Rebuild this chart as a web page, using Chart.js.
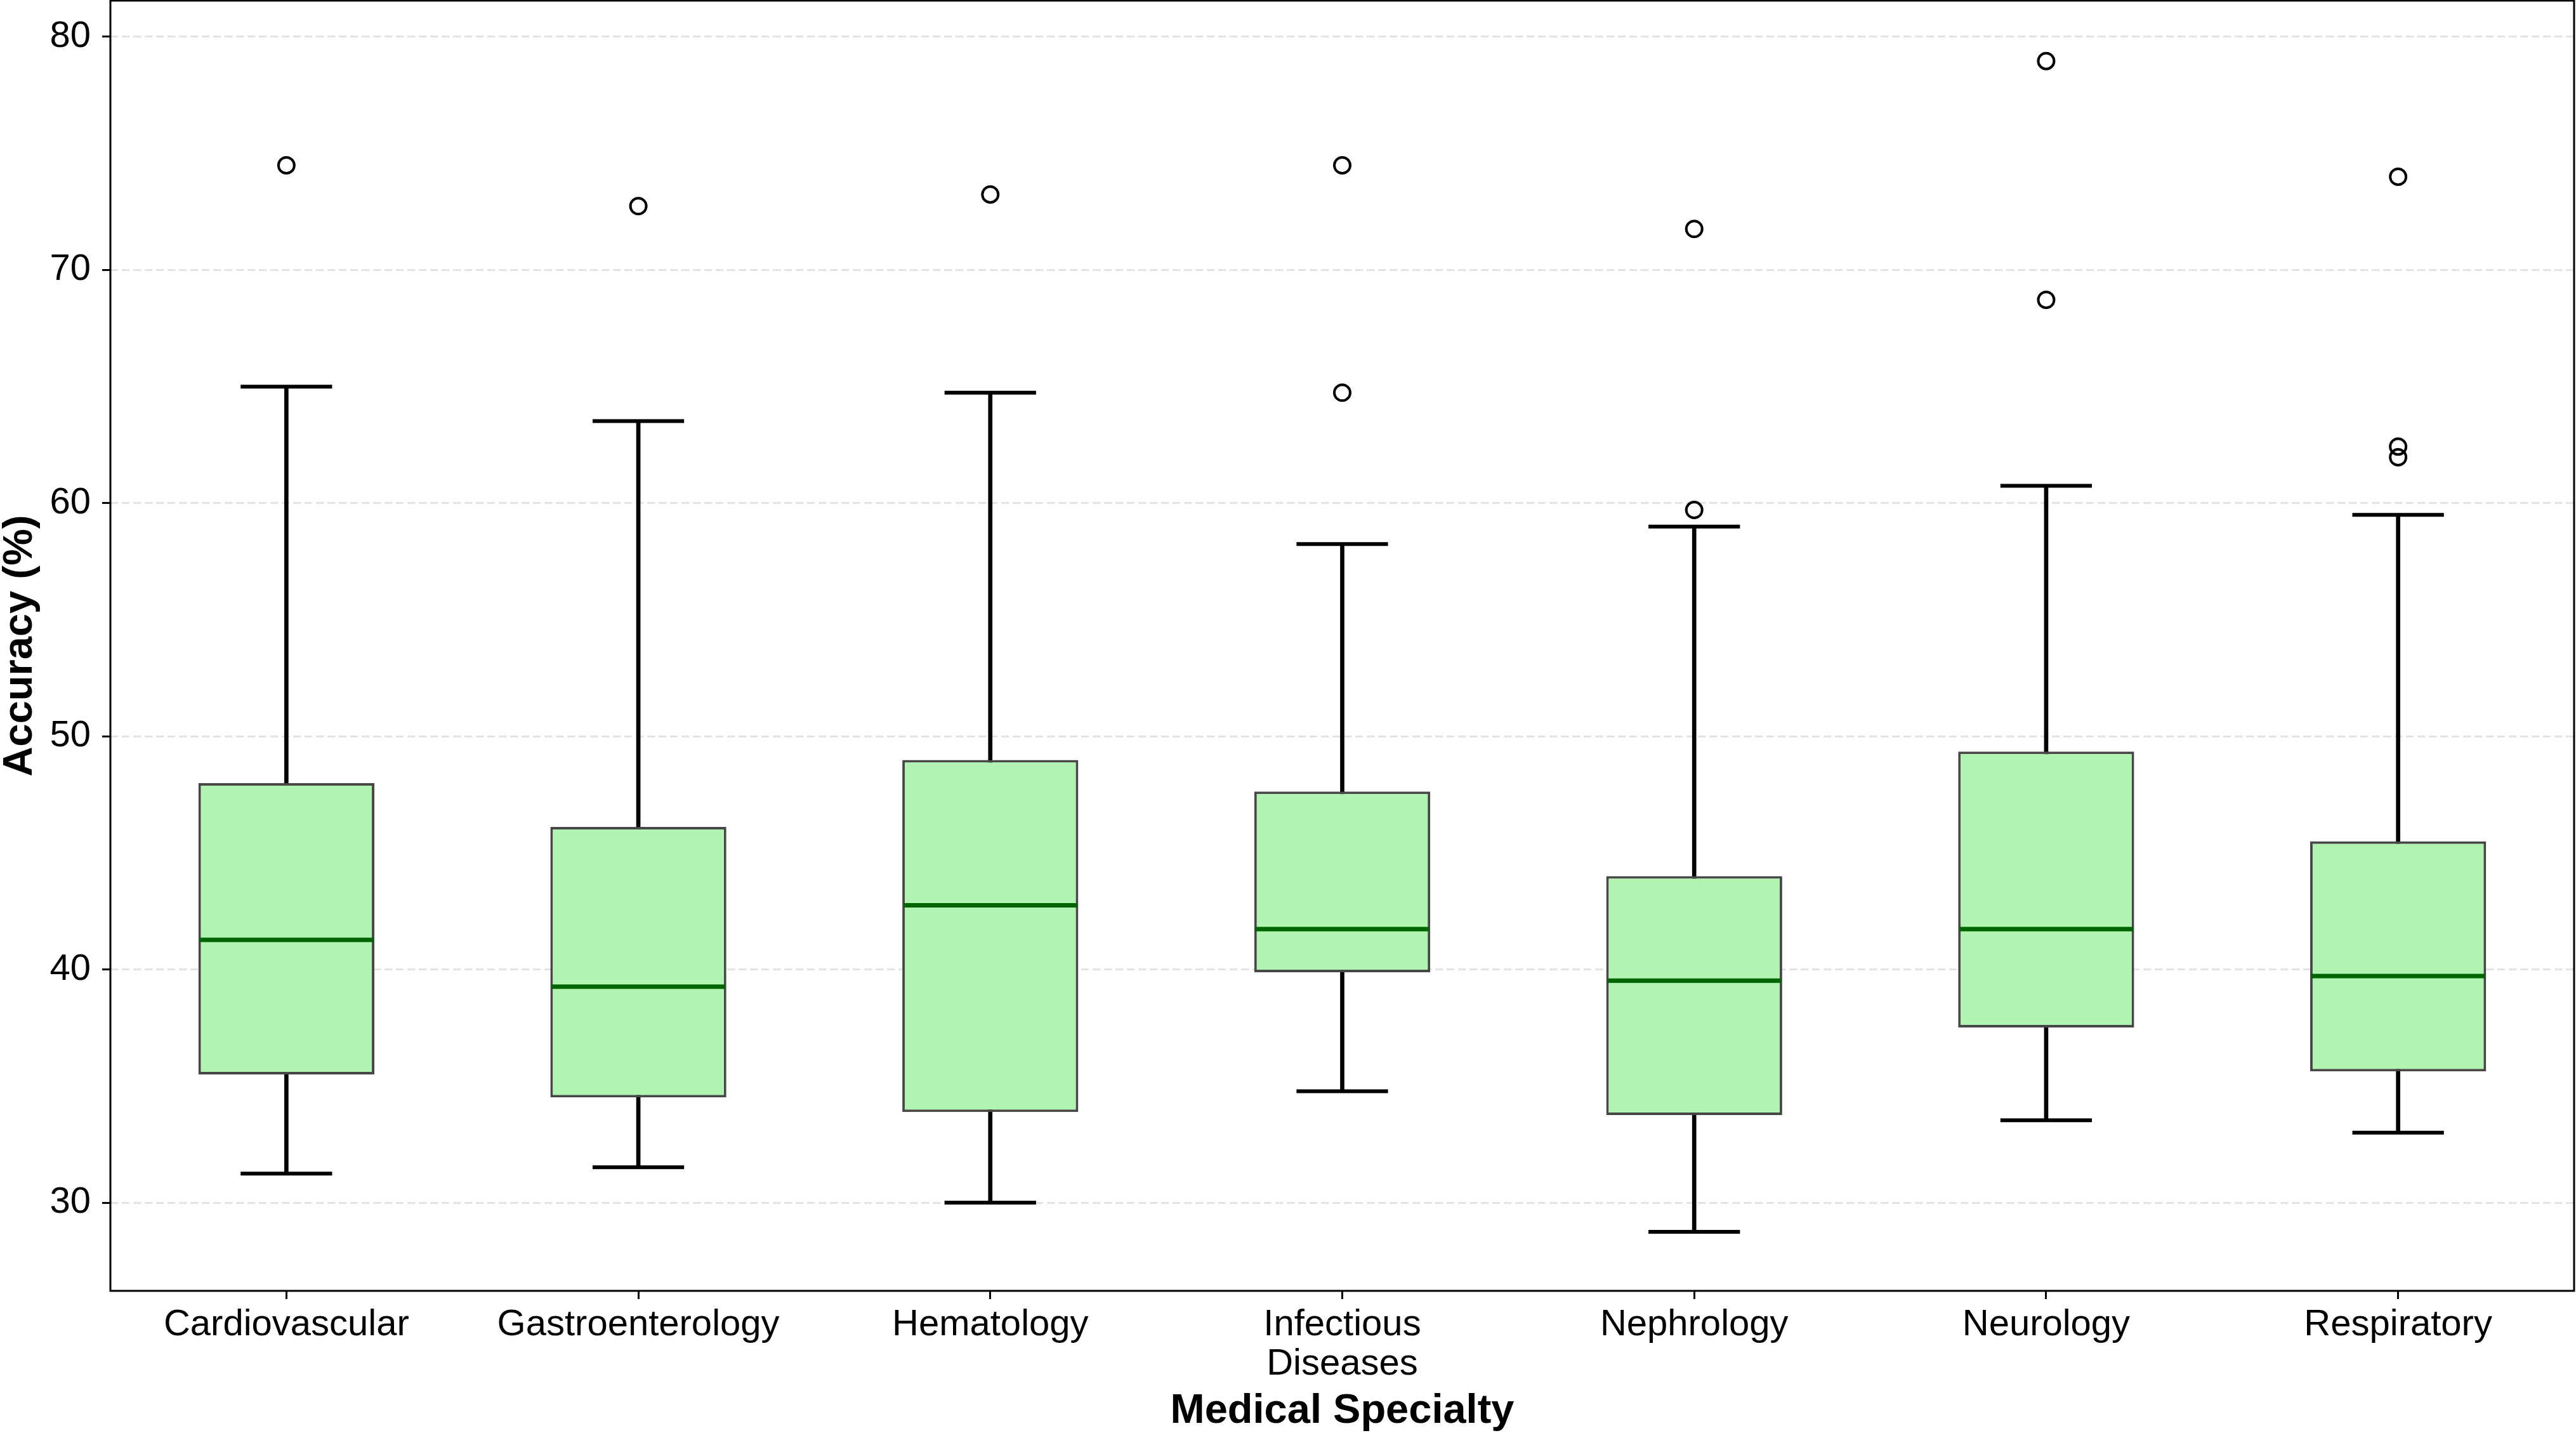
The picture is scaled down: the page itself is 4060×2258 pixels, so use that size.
<!DOCTYPE html>
<html>
<head>
<meta charset="utf-8">
<script src="https://cdn.jsdelivr.net/npm/chart.js@4.4.1/dist/chart.umd.min.js"></script>
<style>
  html, body { margin: 0; padding: 0; background: #fff; }
</style>
</head>
<body>
<canvas id="chart" width="4060" height="2258"></canvas>
<script>
const specialties = ["Cardiovascular", "Gastroenterology", "Hematology", "Infectious Diseases", "Nephrology", "Neurology", "Respiratory"];
const whiskerLow = [31.25, 31.52, 30.0, 34.78, 28.75, 33.53, 33.0];
const q1 = [35.5, 34.51, 33.89, 39.88, 33.76, 37.51, 35.63];
const medians = [41.27, 39.26, 42.75, 41.73, 39.52, 41.73, 39.72];
const q3 = [47.99, 46.11, 48.98, 47.63, 44.0, 49.34, 45.49];
const whiskerHigh = [64.99, 63.51, 64.73, 58.24, 58.99, 60.74, 59.49];
// outliers: index of specialty + value
const outlierIdx = [0, 1, 2, 3, 3, 4, 4, 5, 5, 6, 6, 6];
const outlierVals = [74.48, 72.73, 73.23, 74.48, 64.73, 71.75, 59.7, 78.95, 68.71, 73.99, 62.42, 61.96];
const yTicks = [30, 40, 50, 60, 70, 80];

const FONT = "'Liberation Sans', Arial, Helvetica, sans-serif";

// width of one category slot, in px, from the x scale
function slot(ctx) {
  const x = ctx.chart.scales.x;
  return x ? x.width / specialties.length : 550;
}

const frame = {
  id: "frame",
  afterDatasetsDraw(chart) {
    const { ctx, chartArea: a } = chart;
    ctx.save();
    ctx.strokeStyle = "#000";
    ctx.lineWidth = 3;
    ctx.strokeRect(a.left, a.top, a.right - a.left, a.bottom - a.top);
    ctx.restore();
  },
};

new Chart(document.getElementById("chart"), {
  type: "bar",
  data: {
    labels: specialties,
    datasets: [
      {
        type: "bar",
        data: whiskerLow.map((v, i) => [v, whiskerHigh[i]]),
        backgroundColor: "#000",
        barThickness: 6,
        grouped: false,
        order: 5,
      },
      {
        type: "bar",
        data: q1.map((v, i) => [v, q3[i]]),
        backgroundColor: "#b1f3b1",
        borderColor: "#474747",
        borderWidth: 4,
        borderSkipped: false,
        barPercentage: 0.5,
        categoryPercentage: 1,
        grouped: false,
        order: 4,
      },
      {
        type: "line",
        data: medians,
        showLine: false,
        pointStyle: "line",
        pointRadius: (ctx) => slot(ctx) * 0.247,
        pointBorderWidth: 7,
        pointBorderColor: "#006400",
        order: 1,
      },
      {
        type: "line",
        data: whiskerLow,
        showLine: false,
        pointStyle: "line",
        pointRadius: (ctx) => slot(ctx) * 0.13,
        pointBorderWidth: 6,
        pointBorderColor: "#000",
        order: 2,
      },
      {
        type: "line",
        data: whiskerHigh,
        showLine: false,
        pointStyle: "line",
        pointRadius: (ctx) => slot(ctx) * 0.13,
        pointBorderWidth: 6,
        pointBorderColor: "#000",
        order: 2,
      },
      {
        type: "line",
        data: outlierVals.map((v, i) => ({ x: specialties[outlierIdx[i]], y: v })),
        showLine: false,
        pointStyle: "circle",
        pointRadius: 12.5,
        pointBorderWidth: 4,
        pointBorderColor: "#000",
        pointBackgroundColor: "rgba(0,0,0,0)",
        order: 0,
      },
    ],
  },
  options: {
    responsive: false,
    animation: false,
    events: [],
    layout: { autoPadding: false, padding: { top: 1, right: 3, left: 0, bottom: 0 } },
    plugins: { legend: { display: false }, tooltip: { enabled: false } },
    scales: {
      x: {
        offset: true,
        afterFit: (s) => { s.height = 224; s.paddingLeft = 0; s.paddingRight = 0; },
        grid: { offset: false, drawOnChartArea: false, tickLength: 13, tickWidth: 3, tickColor: "#000" },
        border: { display: false },
        ticks: {
          autoSkip: false,
          maxRotation: 0,
          padding: 10,
          color: "#000",
          font: { family: FONT, size: 58, lineHeight: 1.07 },
          callback: function (v) {
            const l = this.getLabelForValue(v);
            return l.includes(" ") ? l.split(" ") : l;
          },
        },
        title: {
          display: true,
          text: "Medical Specialty",
          color: "#000",
          font: { family: FONT, size: 65, weight: "bold", lineHeight: 1 },
          padding: { top: 0, bottom: 1 },
        },
      },
      y: {
        min: 26.22,
        max: 81.54,
        afterFit: (s) => { s.width = 174; s.paddingTop = 0; s.paddingBottom = 0; },
        afterBuildTicks: (s) => { s.ticks = yTicks.map((v) => ({ value: v })); },
        grid: { color: "#e4e4e4", lineWidth: 3, tickLength: 13, tickWidth: 3, tickColor: "#000" },
        border: { display: false, dash: [12.5, 5.5] },
        ticks: {
          padding: 18,
          color: "#000",
          font: { family: FONT, size: 58 },
        },
        title: {
          display: true,
          text: "Accuracy (%)",
          color: "#000",
          font: { family: FONT, size: 65, weight: "bold", lineHeight: 1 },
          padding: { top: 0, bottom: 0 },
        },
      },
    },
  },
  plugins: [frame],
});
</script>
</body>
</html>
